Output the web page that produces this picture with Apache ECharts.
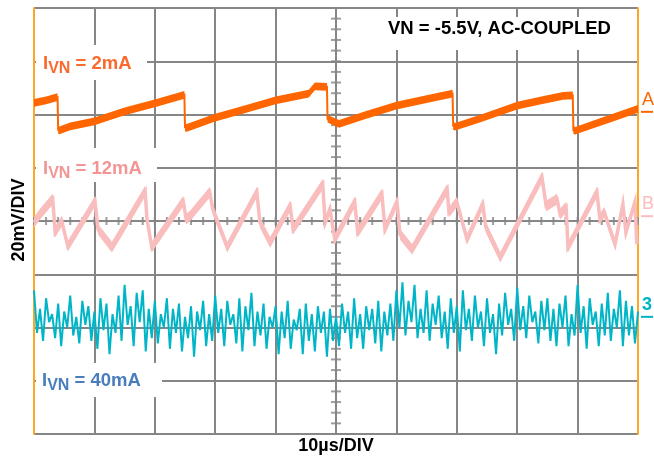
<!DOCTYPE html>
<html><head><meta charset="utf-8">
<script src="https://cdn.jsdelivr.net/npm/echarts@6/dist/echarts.min.js"></script>
<style>html,body{margin:0;padding:0;background:#fff}#c{width:654px;height:460px}</style>
</head><body><div id="c"></div>
<script>
// ---- time base: 10 us/div, 10 divisions (0..100 us); vertical: 20 mV/div, 8 divisions
const X_TICK_LABELS = [0,10,20,30,40,50,60,70,80,90,100];
const MV_PER_DIV = 20;

// Trace A (IVN = 2mA), mV relative to ground marker A
const T_A  = [0, 2, 3.9, 4, 4.2, 6, 10, 15, 20, 24.9, 25, 25.3, 30, 35, 40, 45.5, 46.5, 48.5, 48.6, 50.5, 55, 60, 65, 69.3, 69.4, 69.7, 73.8, 80, 84, 87.6, 89.2, 89.3, 89.6, 95, 100];
const MV_A = [3.4, 4.3, 5.5, -6.8, -7.0, -5.5, -3.6, 0.2, 3.2, 6.4, -5.8, -6.0, -2.2, 1.0, 4.3, 6.8, 9.6, 9.4, -2.6, -4.5, -1.1, 2.3, 4.8, 6.8, -5.3, -5.6, -2.6, 2.3, 4.3, 6.0, 6.2, -6.9, -7.1, -2.8, 1.1];
const NOISE_PP_A = 2.9;   // mV peak-to-peak band
const GROUND_A = 2.05;    // divisions

// Trace B (IVN = 12mA)
const T_B  = [0, 1.0, 3.1, 3.5, 4.6, 5.6, 10.1, 10.6, 12.9, 18.4, 18.7, 19.5, 24.7, 25.2, 25.8, 29.1, 29.6, 32.0, 36.9, 37.4, 39.1, 42.4, 42.9, 47.8, 48.2, 49.0, 49.8, 53.1, 53.6, 57.6, 58.1, 60.1, 60.6, 62.6, 68.4, 68.7, 70.0, 71.7, 74.3, 74.8, 77.2, 84.1, 84.8, 86.6, 87.1, 88.1, 88.4, 93.2, 93.7, 94.4, 96.2, 97.5, 98.0, 99.5, 99.8];
const MV_B = [-2.3, 0.8, 6.4, -6.0, -1.9, -11.3, 5.6, -4.9, -11.6, 9.4, -1.1, -11.6, 5.6, -1.1, 0, 9.0, 2.6, -11.6, 9.0, -2.3, -9.8, 3.8, -4.9, 12.0, -2.3, 2.6, -8.6, 5.3, -6.0, 8.3, -4.9, 5.3, -6.8, -12.4, 10.1, 1.5, 5.3, -8.6, 4.5, -4.1, -15.4, 14.6, 3.8, 6.4, 0.8, 3.4, -11.6, 9.0, -1.1, 1.5, -10.5, 4.5, -6.0, 5.3, -10.5];
const NOISE_PP_B = 4.0;
const GROUND_B = 0.09;

// Trace 3 (IVN = 40mA): scope samples every 0.5 us, mV relative to ground marker 3
const SAMPLE_DT_C = 0.5;
const MV_C = [
  10,-6,3,-9,7,-2,1,-8,5,-11,2,-4,8,-7,0,-10,6,-3,4,-9,
  2,-12,7,-5,5,-14,1,-6,8,-9,12,-3,4,-11,9,-2,10,-13,3,-8,
  6,-10,1,-4,7,-12,3,-6,5,-13,0,-8,4,-15,2,-5,6,-11,1,-9,
  8,-6,3,-11,6,-3,1,-10,7,-13,4,-5,9,-11,2,-7,5,-12,0,-4,
  4,-14,2,-8,6,-12,-1,-5,3,-14,5,-9,1,-13,4,-6,2,-15,3,-9,
  0,-11,5,-6,2,-12,7,-8,1,-12,4,-5,3,-10,6,-13,2,-7,5,-9,
  10,-4,13,-7,6,-2,12,-8,3,-6,10,-9,5,-3,8,-8,2,-12,7,-6,
  4,-13,10,-5,3,-9,8,-4,2,-11,7,-6,1,-14,5,-7,9,-3,3,-9,
  11,-5,4,-8,8,-2,2,-10,6,-5,7,-9,3,-11,5,-4,8,-11,1,-7,
  12,-6,4,-12,7,-3,2,-11,5,-7,9,-9,3,-4,10,-11,6,-7,4,-10,
  2
];
const GROUND_C = -1.80;

const FONT = '"Liberation Sans", Arial, Helvetica, sans-serif';
const GRID_COLOR = '#868686';
const EDGE_COLOR = '#FFA724';
const COL_A = '#FF6600', COL_B = '#F9BDBD', COL_C = '#00B5C7';

function toDiv(ground, mv) { return ground + mv / MV_PER_DIV; }

function bandSeries(T, MV, pp, ground, color, w) {
  return {
    type: 'custom', coordinateSystem: 'cartesian2d', data: [[0, 0]], silent: true, z: 3,
    renderItem: function (params, api) {
      const up = T.map((t, i) => api.coord([t, toDiv(ground, MV[i] + pp / 2)]));
      const lo = T.map((t, i) => api.coord([t, toDiv(ground, MV[i] - pp / 2)])).reverse();
      const mid = T.map((t, i) => api.coord([t, toDiv(ground, MV[i])]));
      return { type: 'group', children: [
        { type: 'polygon', shape: { points: up.concat(lo) }, style: { fill: color } },
        { type: 'polyline', shape: { points: mid }, style: { stroke: color, lineWidth: w, fill: null } }
      ]};
    }
  };
}

// graticule centre-line ticks (every 1/5 division)
const xMinor = [], yMinor = [];
for (let t = 0; t <= 100.001; t += 2) xMinor.push([t, 0]);
for (let v = -4; v <= 4.001; v += 0.2) yMinor.push([50, +v.toFixed(1)]);

const dataC = MV_C.map((mv, i) => [i * SAMPLE_DT_C, toDiv(GROUND_C, mv)]);

const chart = echarts.init(document.getElementById('c'), null, { renderer: 'canvas' });
const option = {
  animation: false,
  backgroundColor: '#fff',
  grid: { left: 34, top: 8, width: 604, height: 426, containLabel: false },
  xAxis: { type: 'value', min: 0, max: 100, interval: 10,
    axisLine: { show: false }, axisTick: { show: false }, axisLabel: { show: false },
    splitLine: { show: true, lineStyle: { color: GRID_COLOR, width: 2 } } },
  yAxis: [
    { type: 'value', min: -4, max: 4, interval: 1,
      axisLine: { show: true, onZero: false, lineStyle: { color: EDGE_COLOR, width: 2 } },
      axisTick: { show: false }, axisLabel: { show: false },
      splitLine: { show: true, lineStyle: { color: GRID_COLOR, width: 2 } } },
    { type: 'value', min: -4, max: 4, interval: 1, position: 'right',
      axisLine: { show: true, onZero: false, lineStyle: { color: EDGE_COLOR, width: 2 } },
      axisTick: { show: false }, axisLabel: { show: false }, splitLine: { show: false } }
  ],
  series: [
    { type: 'scatter', data: xMinor, symbol: 'rect', symbolSize: [2, 8], silent: true, z: 1,
      itemStyle: { color: GRID_COLOR } },
    { type: 'scatter', data: yMinor, symbol: 'rect', symbolSize: [10, 2], silent: true, z: 1,
      itemStyle: { color: GRID_COLOR } },
    bandSeries(T_A, MV_A, NOISE_PP_A, GROUND_A, COL_A, 2),
    bandSeries(T_B, MV_B, NOISE_PP_B, GROUND_B, COL_B, 3.5),
    { type: 'line', data: dataC, showSymbol: false,
      silent: true, z: 3, lineStyle: { color: COL_C, width: 2 } }
  ]
};
chart.setOption(option);

function rich(col, value) {
  return {
    type: 'text', z: 20,
    style: {
      text: '{i|I}{s|VN}{t| = ' + value + '}',
      rich: {
        i: { fontSize: 18.5, fontWeight: 'bold', fontFamily: FONT, fill: col },
        s: { fontSize: 16, fontWeight: 'bold', fontFamily: FONT, fill: col, padding: [10, 0, 0, 0] },
        t: { fontSize: 18.5, fontWeight: 'bold', fontFamily: FONT, fill: col }
      }
    }
  };
}
function box(x, y, w, h) {
  return { type: 'rect', z: 15, shape: { x: x, y: y, width: w, height: h }, style: { fill: '#fff' } };
}
const gA = chart.convertToPixel({ gridIndex: 0 }, [100, GROUND_A]);
const gB = chart.convertToPixel({ gridIndex: 0 }, [100, GROUND_B]);
const gC = chart.convertToPixel({ gridIndex: 0 }, [100, GROUND_C]);
function marker(txt, col, g, bold) {
  return [
    { type: 'text', z: 20, x: g[0] + 4, y: g[1] - 3, style: { text: txt, fill: col,
      font: (bold ? 'bold ' : '') + '18px ' + FONT, textVerticalAlign: 'bottom', textAlign: 'left' } },
    { type: 'rect', z: 20, shape: { x: g[0] + 3, y: g[1] - 1, width: 12, height: 2 }, style: { fill: col } }
  ];
}

chart.setOption({
  graphic: [
    box(36, 45, 111, 35), Object.assign(rich('#FA6A2E', '2mA'), { x: 43, y: 51 }),
    box(36, 148, 121, 34), Object.assign(rich('#F39594', '12mA'), { x: 43, y: 156 }),
    box(36, 363, 126, 34), Object.assign(rich('#4A7DBE', '40mA'), { x: 42, y: 368 }),
    box(376, 17, 256, 33),
    { type: 'text', z: 20, x: 388, y: 19, style: { text: 'VN = -5.5V, AC-COUPLED', fill: '#000',
      font: 'bold 18.5px ' + FONT } },
    { type: 'text', z: 20, x: 336, y: 437, style: { text: '10µs/DIV', fill: '#000',
      font: 'bold 18px ' + FONT, textAlign: 'center' } },
    { type: 'text', z: 20, x: 19, y: 220, rotation: Math.PI / 2, style: { text: '20mV/DIV', fill: '#000',
      font: 'bold 18px ' + FONT, textAlign: 'center', textVerticalAlign: 'middle' } }
  ].concat(marker('A', COL_A, gA, false), marker('B', COL_B, gB, false), marker('3', COL_C, gC, true))
});
</script></body></html>
